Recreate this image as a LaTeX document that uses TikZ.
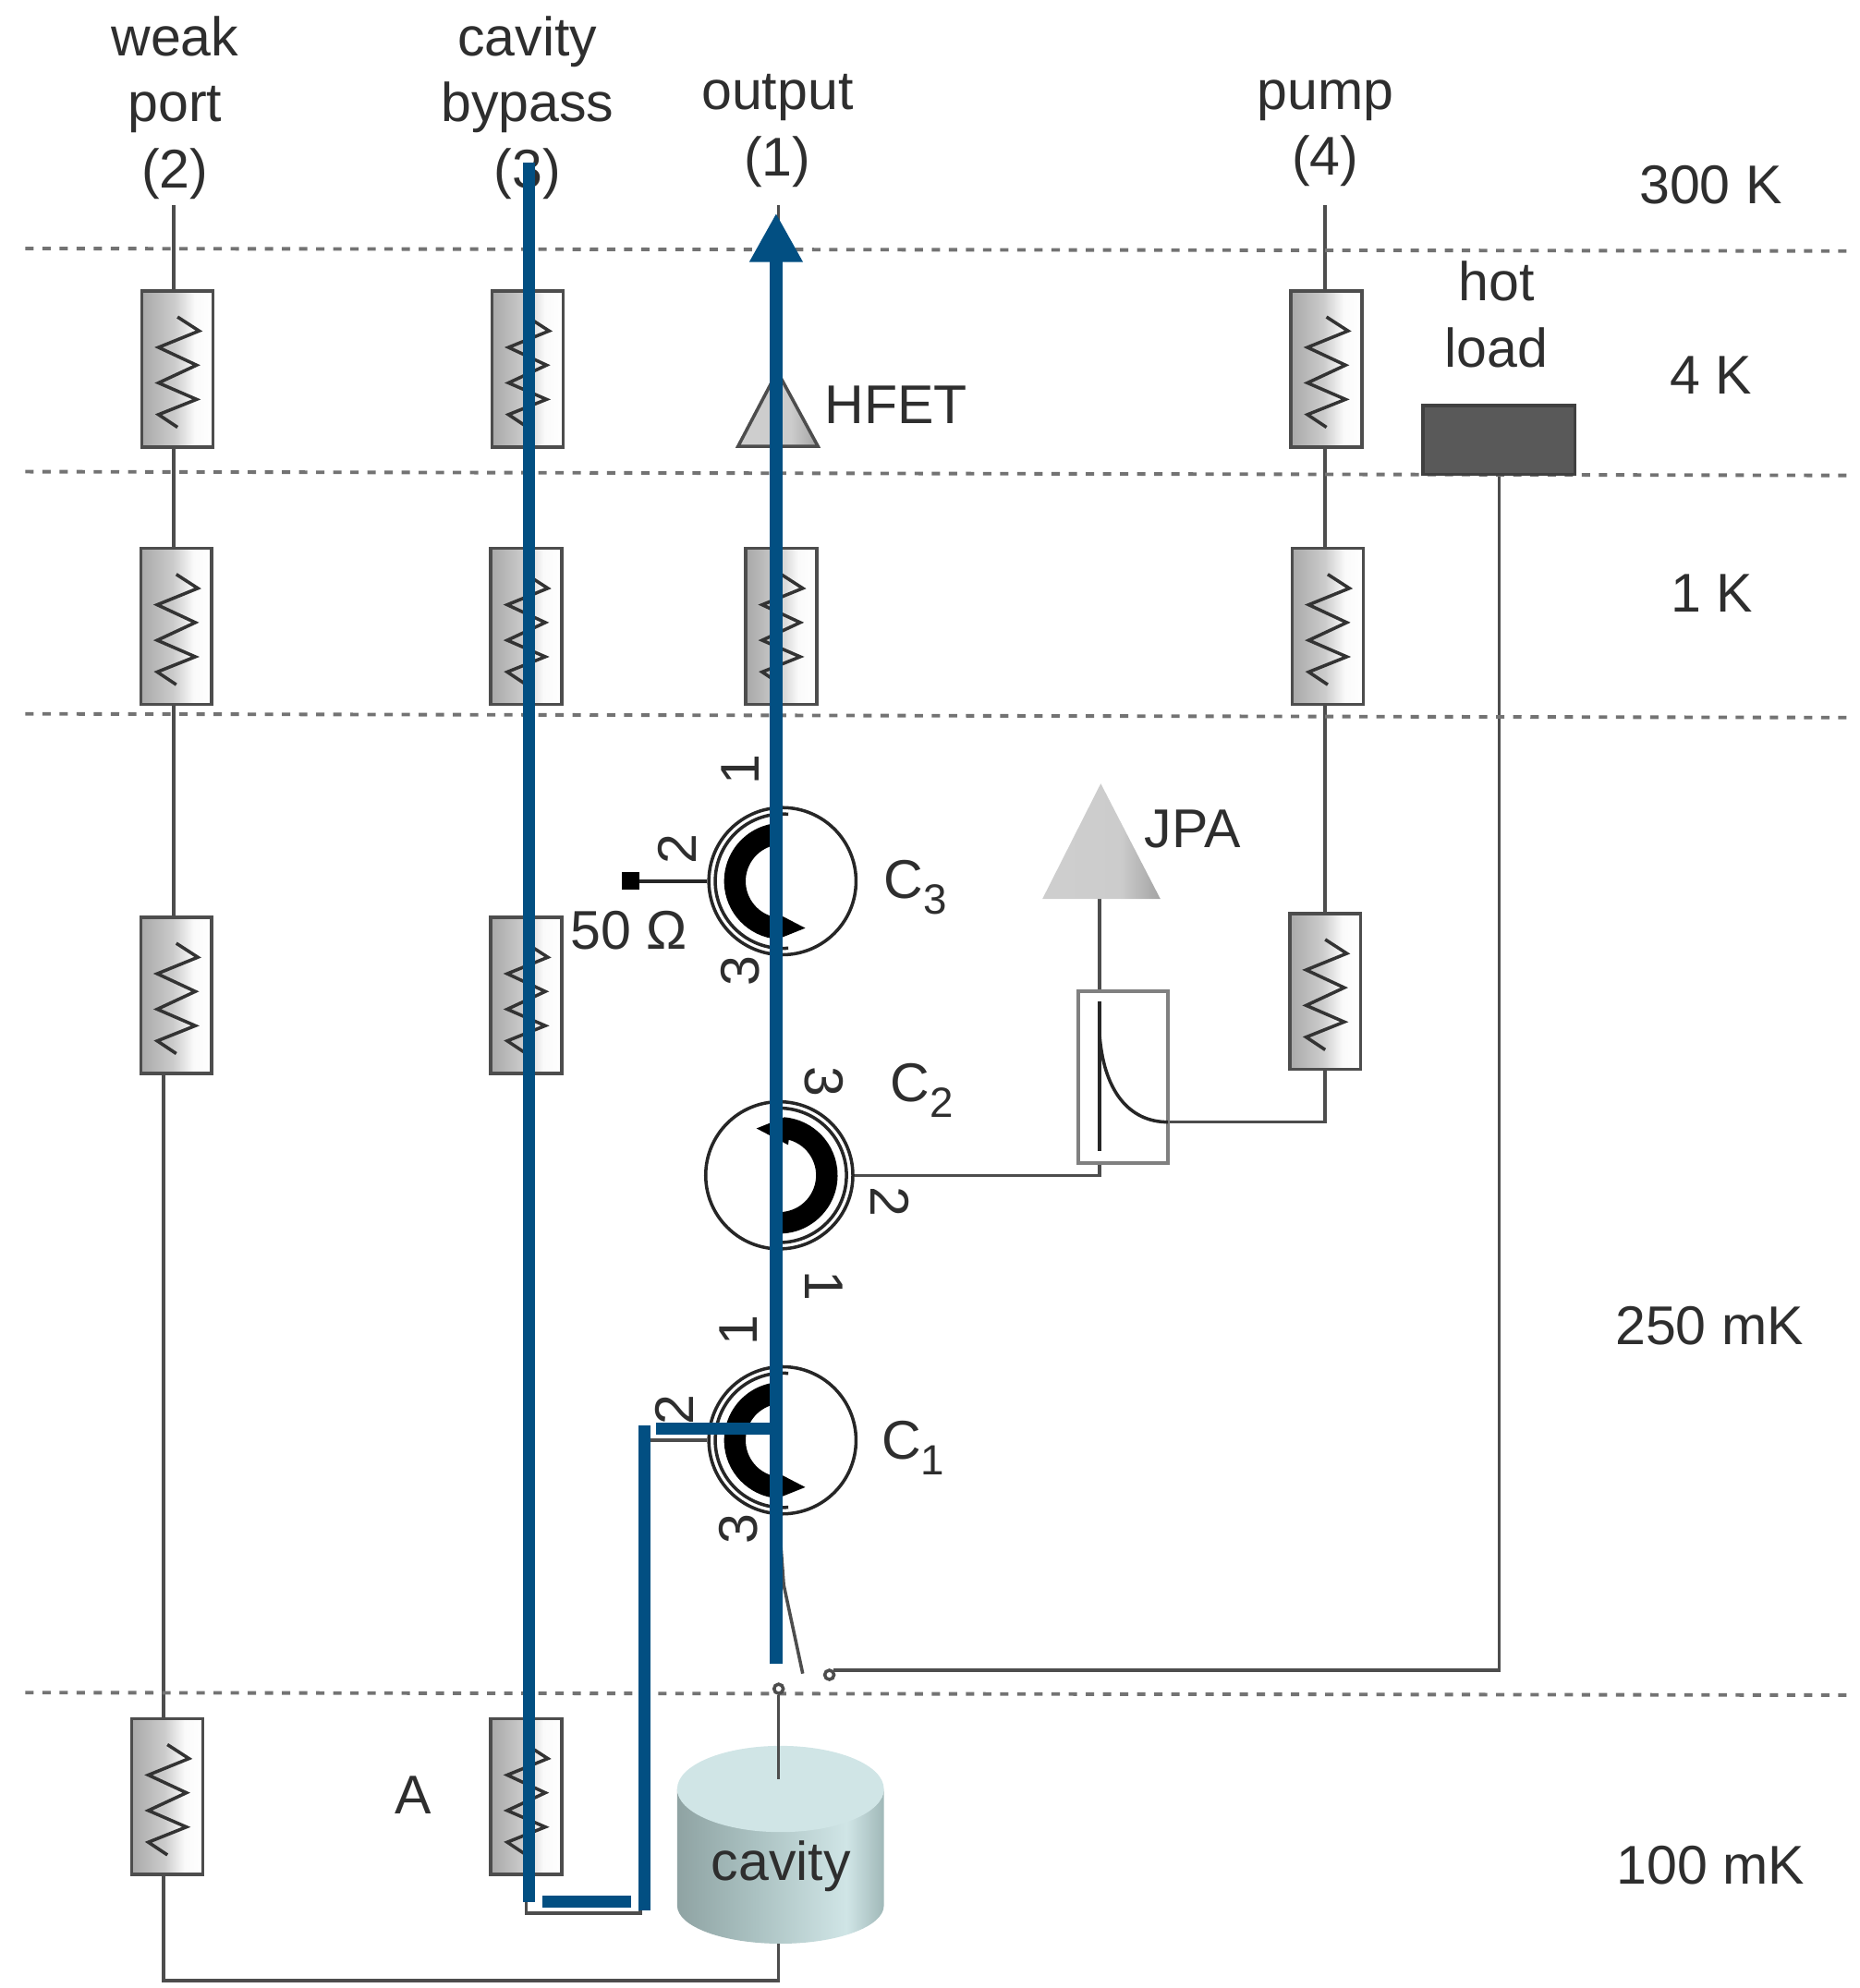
\documentclass[tikz,border=0pt]{standalone}
\usepackage{fontspec}
\setmainfont{Liberation Sans}
\usetikzlibrary{arrows.meta, backgrounds}

\definecolor{inkgray}{HTML}{2E2E2E}
\definecolor{wiregray}{HTML}{4D4D4D}
\definecolor{bluepath}{HTML}{024F82}
\definecolor{cavdark}{HTML}{8FA3A3}
\definecolor{cavmid}{HTML}{A9C0C0}
\definecolor{cavlight}{HTML}{D0E5E6}
\definecolor{cavedge}{HTML}{A0B8B8}

\pgfdeclarehorizontalshading{cavshade}{100bp}{color(0bp)=(cavdark); color(25bp)=(cavdark); color(43bp)=(cavmid); color(66bp)=(cavlight); color(75bp)=(cavedge); color(100bp)=(cavedge)}
\pgfdeclarehorizontalshading{ampshade}{100bp}{color(0bp)=(black!19); color(25bp)=(black!19); color(58bp)=(black!20); color(75bp)=(black!36); color(100bp)=(black!36)}
\pgfdeclarehorizontalshading{attshade}{100bp}{color(0bp)=(black!34); color(25bp)=(black!34); color(48bp)=(black!20); color(62bp)=(black!2); color(75bp)=(white); color(100bp)=(white)}

\newcommand{\csub}[1]{\raisebox{-0.28em}{\fontsize{13}{13}\selectfont #1}}

\tikzset{
    labeltxt/.style={text=inkgray, font=\fontsize{16.8}{20.3}\selectfont, align=center, inner sep=0pt},
    wire/.style={draw=wiregray, line width=1pt},
    dotline/.style={draw=black!55, line width=1.1pt, dash pattern=on 0.09cm off 0.095cm},
    atten/.style={draw=wiregray, line width=1pt, rectangle, inner sep=0pt,
        minimum width=0.769cm, minimum height=1.688cm, shading=attshade,
        path picture={
            \draw[shift={(path picture bounding box.center)}, line width=1pt, black!80]
                (0,-41) -- (17,-30) -- (-15,-17) -- (15,-3) -- (-15,11) -- (15,24) -- (-15,36) -- (0,46);
        }},
    circnode/.style={draw=black!85, line width=1pt, circle, fill=white, inner sep=0pt, minimum size=1.592cm},
    circarrow/.pic={
        % anel preto com a ponta de seta
        \fill[black] (-92:46) arc (-92:-265:46) -- (18,37) -- (-7,24) -- (-255:29) arc (-255:-92:29) -- cycle;
        \draw[black!85, line width=1pt] (-85:53) arc (-85:-275:53);
    },
    portnum/.style={labeltxt, rotate=90},
    portflip/.style={labeltxt, rotate=-90},
    bluewire/.style={draw=bluepath, line width=0.134cm},
}

\begin{document}
\begin{tikzpicture}[x=0.013724cm, y=-0.013724cm]
        \useasboundingbox (0,0) rectangle (1466,1568);

        % Linhas de temperatura
        \draw[dotline] (20,196) -- (1462,198);
        \draw[dotline] (20,372) -- (1462,375);
        \draw[dotline] (20,563) -- (1462,566);
        \draw[dotline] (20,1335) -- (1462,1337);

        % Titulos das colunas
        \node[labeltxt] (weaklabel) at (138,85) {weak\\port\\(2)};
        \node[labeltxt] (bypasslabel) at (416,85) {cavity\\bypass\\(3)};
        \node[labeltxt] (outlabel) at (613,103) {output\\(1)};
        \node[labeltxt] (pumplabel) at (1045,105) {pump\\(4)};

        % Temperaturas
        \node[labeltxt] (t300) at (1349,146) {300 K};
        \node[labeltxt] (t4) at (1349,296) {4 K};
        \node[labeltxt] (t1) at (1350,468) {1 K};
        \node[labeltxt] (t250) at (1348,1046) {250 mK};
        \node[labeltxt] (t100) at (1349,1471) {100 mK};

        % Atenuadores
        \node[atten] (w1) at (140,291) {};
        \node[atten] (w2) at (139,494) {};
        \node[atten] (w3) at (139,785) {};
        \node[atten] (w4) at (132,1417) {};
        \node[atten] (b1) at (416,291) {};
        \node[atten] (b2) at (415,494) {};
        \node[atten] (b3) at (415,785) {};
        \node[atten] (b4) at (415,1417) {};
        \node[atten] (o1) at (616,494) {};
        \node[atten] (p1) at (1046,291) {};
        \node[atten] (p2) at (1047,494) {};
        \node[atten] (p3) at (1045,782) {};

        % Circuladores
        \node[circnode] (c3) at (617,695) {};
        \node[circnode] (c2) at (614.5,927) {};
        \node[circnode] (c1) at (617,1136) {};
        \pic at (c3) {circarrow};
        \pic[rotate=180] at (c2) {circarrow};
        \pic at (c1) {circarrow};

        \node[labeltxt] (c3name) at (722,700) {C\csub{3}};
        \node[labeltxt] (c2name) at (727,860) {C\csub{2}};
        \node[labeltxt] (c1name) at (720,1142) {C\csub{1}};

        \node[portnum] (c3p1) at (584,607) {1};
        \node[portnum] (c3p2) at (534,670) {2};
        \node[portnum] (c3p3) at (584,766) {3};
        \node[portflip] (c2p3) at (650,853) {3};
        \node[portflip] (c2p2) at (702,948) {2};
        \node[portflip] (c2p1) at (650,1014) {1};
        \node[portnum] (c1p1) at (582,1049) {1};
        \node[portnum] (c1p2) at (532,1112) {2};
        \node[portnum] (c1p3) at (582,1206) {3};

        % Terminacao de 50 ohm
        \node[fill=black, inner sep=0pt, minimum size=0.19cm] (term) at (497,695) {};
        \node[labeltxt] (termlabel) at (496,734) {50 Ω};

        % Amplificadores
        \draw[draw=wiregray, line width=1pt, shading=ampshade]
            (613,293) -- (582,352) -- (645,352) -- cycle;
        \node[labeltxt, anchor=west] (hfet) at (650,319) {HFET};
        \shade[shading=ampshade]
            (868,618) -- (822,709) -- (915,709) -- cycle;
        \coordinate (jpabase) at (867,709);
        \node[labeltxt, anchor=west] (jpa) at (902,654) {JPA};

        % Acoplador
        \node[draw=black!50, line width=1.1pt, fill=white, inner sep=0pt, minimum width=0.974cm, minimum height=1.853cm] (coupler) at (885.5,849.5) {};
        \draw[draw=black!85, line width=1pt] (867,790) -- (867,908);
        \draw[draw=black!85, line width=1pt] (867,815) .. controls (870,860) and (890,885) .. (921,885);
        \coordinate (pumpturn) at (1045,885);
        \coordinate (c2turn) at (867,927);

        % Carga quente
        \node[draw=black!75, fill=black!65, line width=1pt, inner sep=0pt, minimum width=1.647cm, minimum height=0.741cm] (hotload) at (1182,347) {};
        \node[labeltxt] (hotlabel) at (1180,248) {hot\\load};

        % Chave
        \coordinate (armtop) at (618,1250);
        \coordinate (armend) at (633,1320);
        \node[circle, draw=wiregray, line width=1pt, fill=white, inner sep=0pt, minimum size=0.1cm] (contact) at (614,1332) {};
        \node[circle, draw=wiregray, line width=1pt, fill=white, inner sep=0pt, minimum size=0.1cm] (hotcontact) at (654,1321) {};
        \coordinate (hotturn) at (1182,1317);

        % Cavidade
        \shade[shading=cavshade]
            (534,1411) -- (534,1503) arc (180:0:81.5 and 30) -- (697,1411) arc (0:180:81.5 and 33) -- cycle;
        \fill[cavlight] (615.5,1411) ellipse (81.5 and 34);
        \coordinate (cavin) at (614,1403);
        \coordinate (cavbot) at (614,1533);
        \node[labeltxt] (cavity) at (616,1472) {cavity};

        \node[labeltxt] (alabel) at (326,1416) {A};

        % Extremos livres e curvas
        \coordinate (wtop) at (137,162);
        \coordinate (btop) at (415,162);
        \coordinate (otop) at (614,162);
        \coordinate (ptop) at (1045,162);
        \coordinate (wdrop) at (129,1562);
        \coordinate (bturn) at (505,1509);

        % Fios, atras de tudo
        \begin{scope}[on background layer]
            \draw[wire] (wtop) -- (wtop |- w1.north);
            \draw[wire] (wtop |- w1.south) -- (wtop |- w2.north);
            \draw[wire] (wtop |- w2.south) -- (wtop |- w3.north);
            \draw[wire] (wdrop |- w3.south) -- (wdrop |- w4.north);
            \draw[wire] (wdrop |- w4.south) -- (wdrop) -- (cavbot |- wdrop) -- (cavbot);

            \draw[wire] (btop) -- (btop |- b1.north);
            \draw[wire] (btop |- b1.south) -- (btop |- b2.north);
            \draw[wire] (btop |- b2.south) -- (btop |- b3.north);
            \draw[wire] (btop |- b3.south) -- (btop |- b4.north);
            \draw[wire] (b4.south) -- (b4.south |- bturn) -- (bturn) -- (bturn |- c1.west) -- (c1.west);

            \draw[wire] (otop) -- (otop |- o1.north);
            \draw[wire] (otop |- o1.south) -- (otop |- c3.north);
            \draw[wire] (otop |- c3.south) -- (otop |- c2.north);
            \draw[wire] (otop |- c2.south) -- (otop |- c1.north);
            \draw[wire] (otop |- c1.south) -- (armtop) -- (armend);

            \draw[wire] (ptop) -- (ptop |- p1.north);
            \draw[wire] (ptop |- p1.south) -- (ptop |- p2.north);
            \draw[wire] (ptop |- p2.south) -- (ptop |- p3.north);
            \draw[wire] (ptop |- p3.south) -- (pumpturn) -- (coupler.east |- pumpturn);

            \draw[wire] (c2.east) -- (c2turn) -- (c2turn |- coupler.south);
            \draw[wire] (jpabase) -- (jpabase |- coupler.north);
            \draw[wire, draw=black!85] (term) -- (c3.west);

            \draw[wire] (hotcontact.north east) -- (hotturn |- hotcontact.north east) -- (hotturn |- hotload.south);
        \end{scope}

        % Fio sobre a cavidade
        \draw[wire] (contact) -- (cavin);

        % Percursos azuis por cima
        \coordinate (arrowfoot) at (612,1312);
        \coordinate (arrowtip) at (612,168);
        \coordinate (linetop) at (417,128);
        \coordinate (linefoot) at (417,1500);
        \coordinate (bluea) at (428,1500);
        \coordinate (blueb) at (498,1500);
        \coordinate (bluec) at (508,1507);
        \coordinate (blued) at (508,1124);
        \coordinate (bluee) at (517,1127);
        \coordinate (bluef) at (608,1127);
        \draw[bluewire, -{Triangle[length=0.53cm, width=0.54cm]}] (arrowfoot) -- (arrowtip);
        \draw[bluewire] (linetop) -- (linefoot);
        \draw[bluewire] (bluea) -- (blueb);
        \draw[bluewire] (bluec) -- (blued);
        \draw[bluewire] (bluee) -- (bluef);
\end{tikzpicture}
\end{document}
